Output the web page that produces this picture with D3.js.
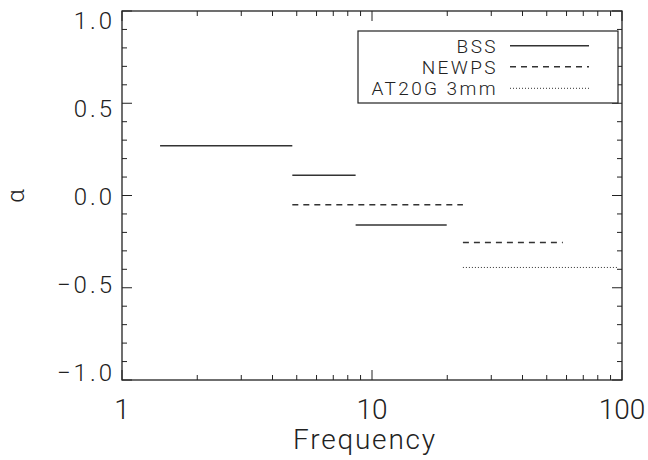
<!DOCTYPE html>
<html><head><meta charset="utf-8">
<script src="https://cdn.jsdelivr.net/npm/d3@7"></script>
<style>
body{margin:0;background:#fff;}
text{font-family:Roboto,"Liberation Sans",sans-serif;font-weight:300;fill:#222;}
</style></head>
<body><svg id="c" width="648" height="460"></svg>
<script>
// Data
const seriesNames = ["BSS", "NEWPS", "AT20G 3mm"];
const bssSegments = [[1.42, 4.8, 0.27], [4.8, 8.6, 0.11], [8.6, 19.9, -0.16]];
const newpsSegments = [[4.8, 23.1, -0.05], [23.1, 58, -0.255]];
const at20gSegments = [[23.1, 97, -0.39]];
const xTickValues = [1, 10, 100];
const xTickLabels = ["1", "10", "100"];
const yTickValues = [-1.0, -0.5, 0.0, 0.5, 1.0];
const yTickLabels = ["\u22121.0", "\u22120.5", "0.0", "0.5", "1.0"];

const svg = d3.select("#c");
const L = 122, R = 622, T = 11, B = 380;
const x = d3.scaleLog().domain([1, 100]).range([L, R]);
const y = d3.scaleLinear().domain([-1, 1]).range([B, T]);
const yLab = d3.scaleLinear().domain([-1, 1]).range([372, 20]);
const ink = "#222";

// frame
svg.append("rect").attr("x", L).attr("y", T).attr("width", R - L).attr("height", B - T)
  .attr("fill", "none").attr("stroke", ink).attr("stroke-width", 1.3);

// x ticks (major + minor), bottom and top, inward
const xMinor = [];
for (let d = 1; d <= 10; d *= 10) for (let k = 2; k <= 9; k++) xMinor.push(d * k);
const gx = svg.append("g");
function xt(vals, len) {
  vals.forEach(v => {
    gx.append("line").attr("x1", x(v)).attr("x2", x(v)).attr("y1", B).attr("y2", B - len).attr("stroke", ink);
    gx.append("line").attr("x1", x(v)).attr("x2", x(v)).attr("y1", T).attr("y2", T + len).attr("stroke", ink);
  });
}
xt(xTickValues, 10); xt(xMinor, 5);
xTickValues.forEach((v, i) => {
  svg.append("text").attr("x", x(v)).attr("y", 419).attr("text-anchor", "middle")
    .attr("font-size", 28).text(xTickLabels[i]);
});

// y ticks
const yMinor = d3.range(-10, 11).map(i => i / 10).filter(v => Math.abs(v * 2 - Math.round(v * 2)) > 1e-6);
const gy = svg.append("g");
function yt(vals, len) {
  vals.forEach(v => {
    gy.append("line").attr("x1", L).attr("x2", L + len).attr("y1", y(v)).attr("y2", y(v)).attr("stroke", ink);
    gy.append("line").attr("x1", R).attr("x2", R - len).attr("y1", y(v)).attr("y2", y(v)).attr("stroke", ink);
  });
}
yt(yTickValues, 10); yt(yMinor, 5);
yTickValues.forEach((v, i) => {
  svg.append("text").attr("x", 115).attr("y", yLab(v)).attr("dy", "0.36em").attr("text-anchor", "end")
    .attr("font-size", 24).attr("letter-spacing", 3).text(yTickLabels[i]);
});

// axis titles
svg.append("text").attr("x", 365).attr("y", 449).attr("text-anchor", "middle")
  .attr("font-size", 28).attr("letter-spacing", 1.8).text("Frequency");
svg.append("text").attr("transform", "translate(24,196) rotate(-90)").attr("text-anchor", "middle")
  .attr("font-size", 24).text("\u03b1");

// series
const styles = [
  {segs: bssSegments, dash: null},
  {segs: newpsSegments, dash: "6,5"},
  {segs: at20gSegments, dash: "1,2"}
];
styles.forEach(s => {
  svg.append("g").selectAll("line").data(s.segs).join("line")
    .attr("x1", d => x(d[0])).attr("x2", d => x(d[1]))
    .attr("y1", d => y(d[2])).attr("y2", d => y(d[2]))
    .attr("stroke", "#333").attr("stroke-width", s.dash === "1,2" ? 1 : 1.5)
    .attr("stroke-dasharray", s.dash);
});

// legend
svg.append("rect").attr("x", 358).attr("y", 31).attr("width", 260).attr("height", 72)
  .attr("fill", "#fff").attr("stroke", ink).attr("stroke-width", 1.2);
const rowY = [45.7, 66.7, 88.3];
seriesNames.forEach((n, i) => {
  svg.append("text").attr("x", 498).attr("y", rowY[i] + 7).attr("text-anchor", "end")
    .attr("font-size", 19).attr("letter-spacing", 2.4).text(n);
  svg.append("line").attr("x1", 510).attr("x2", 589).attr("y1", rowY[i]).attr("y2", rowY[i])
    .attr("stroke", "#333").attr("stroke-width", styles[i].dash === "1,2" ? 1 : 1.5)
    .attr("stroke-dasharray", styles[i].dash);
});
</script></body></html>
